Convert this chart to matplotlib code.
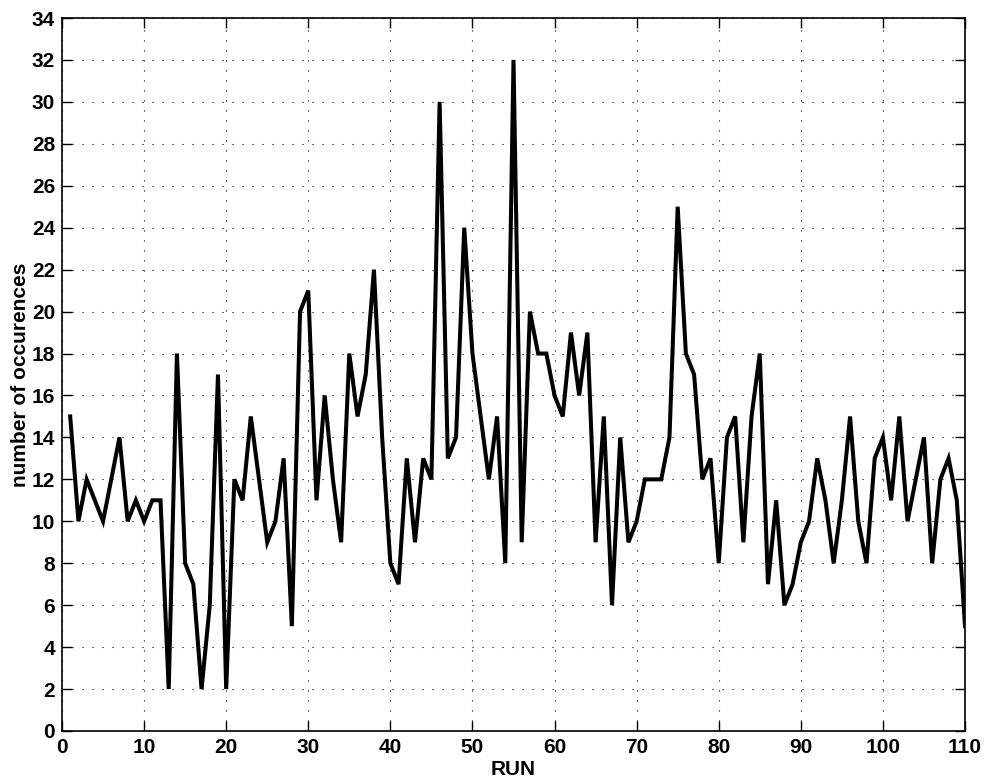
import matplotlib
matplotlib.use("Agg")
import matplotlib.pyplot as plt

runs = list(range(1, 111))
occurrences = [
    15, 10, 12, 11, 10, 12, 14, 10, 11, 10,
    11, 11, 2, 18, 8, 7, 2, 6, 17, 2,
    12, 11, 15, 12, 9, 10, 13, 5, 20, 21,
    11, 16, 12, 9, 18, 15, 17, 22, 14, 8,
    7, 13, 9, 13, 12, 30, 13, 14, 24, 18,
    15, 12, 15, 8, 32, 9, 20, 18, 18, 16,
    15, 19, 16, 19, 9, 15, 6, 14, 9, 10,
    12, 12, 12, 14, 25, 18, 17, 12, 13, 8,
    14, 15, 9, 15, 18, 7, 11, 6, 7, 9,
    10, 13, 11, 8, 11, 15, 10, 8, 13, 14,
    11, 15, 10, 12, 14, 8, 12, 13, 11, 5,
]
xticks = list(range(0, 111, 10))
yticks = list(range(0, 35, 2))

plt.rcParams['font.family'] = ['Liberation Sans', 'DejaVu Sans']
plt.rcParams['font.weight'] = 'bold'

fig = plt.figure(figsize=(9.88, 7.82), dpi=100)
ax = fig.add_axes([62/988, 1 - 731/782, (965 - 62)/988, (731 - 18)/782])

ax.plot(runs, occurrences, color='black', linewidth=2.9, solid_joinstyle='miter', zorder=3)

ax.set_xlim(0, 110)
ax.set_ylim(0, 34)
ax.set_xticks(xticks)
ax.set_yticks(yticks)
ax.tick_params(direction='in', length=7, width=1.0, top=True, right=True,
               labelsize=15, pad=5)
for lab in ax.get_xticklabels() + ax.get_yticklabels():
    lab.set_fontweight('bold')

ax.grid(True, color='black', linewidth=0.8, linestyle=(0, (1, 8)), zorder=1)
for s in ax.spines.values():
    s.set_linewidth(1.2)

ax.set_xlabel('RUN', fontsize=15, fontweight='bold', labelpad=2)
ax.set_ylabel('number of occurences', fontsize=15, fontweight='bold', labelpad=1)

fig.savefig('out.png', dpi=100)
